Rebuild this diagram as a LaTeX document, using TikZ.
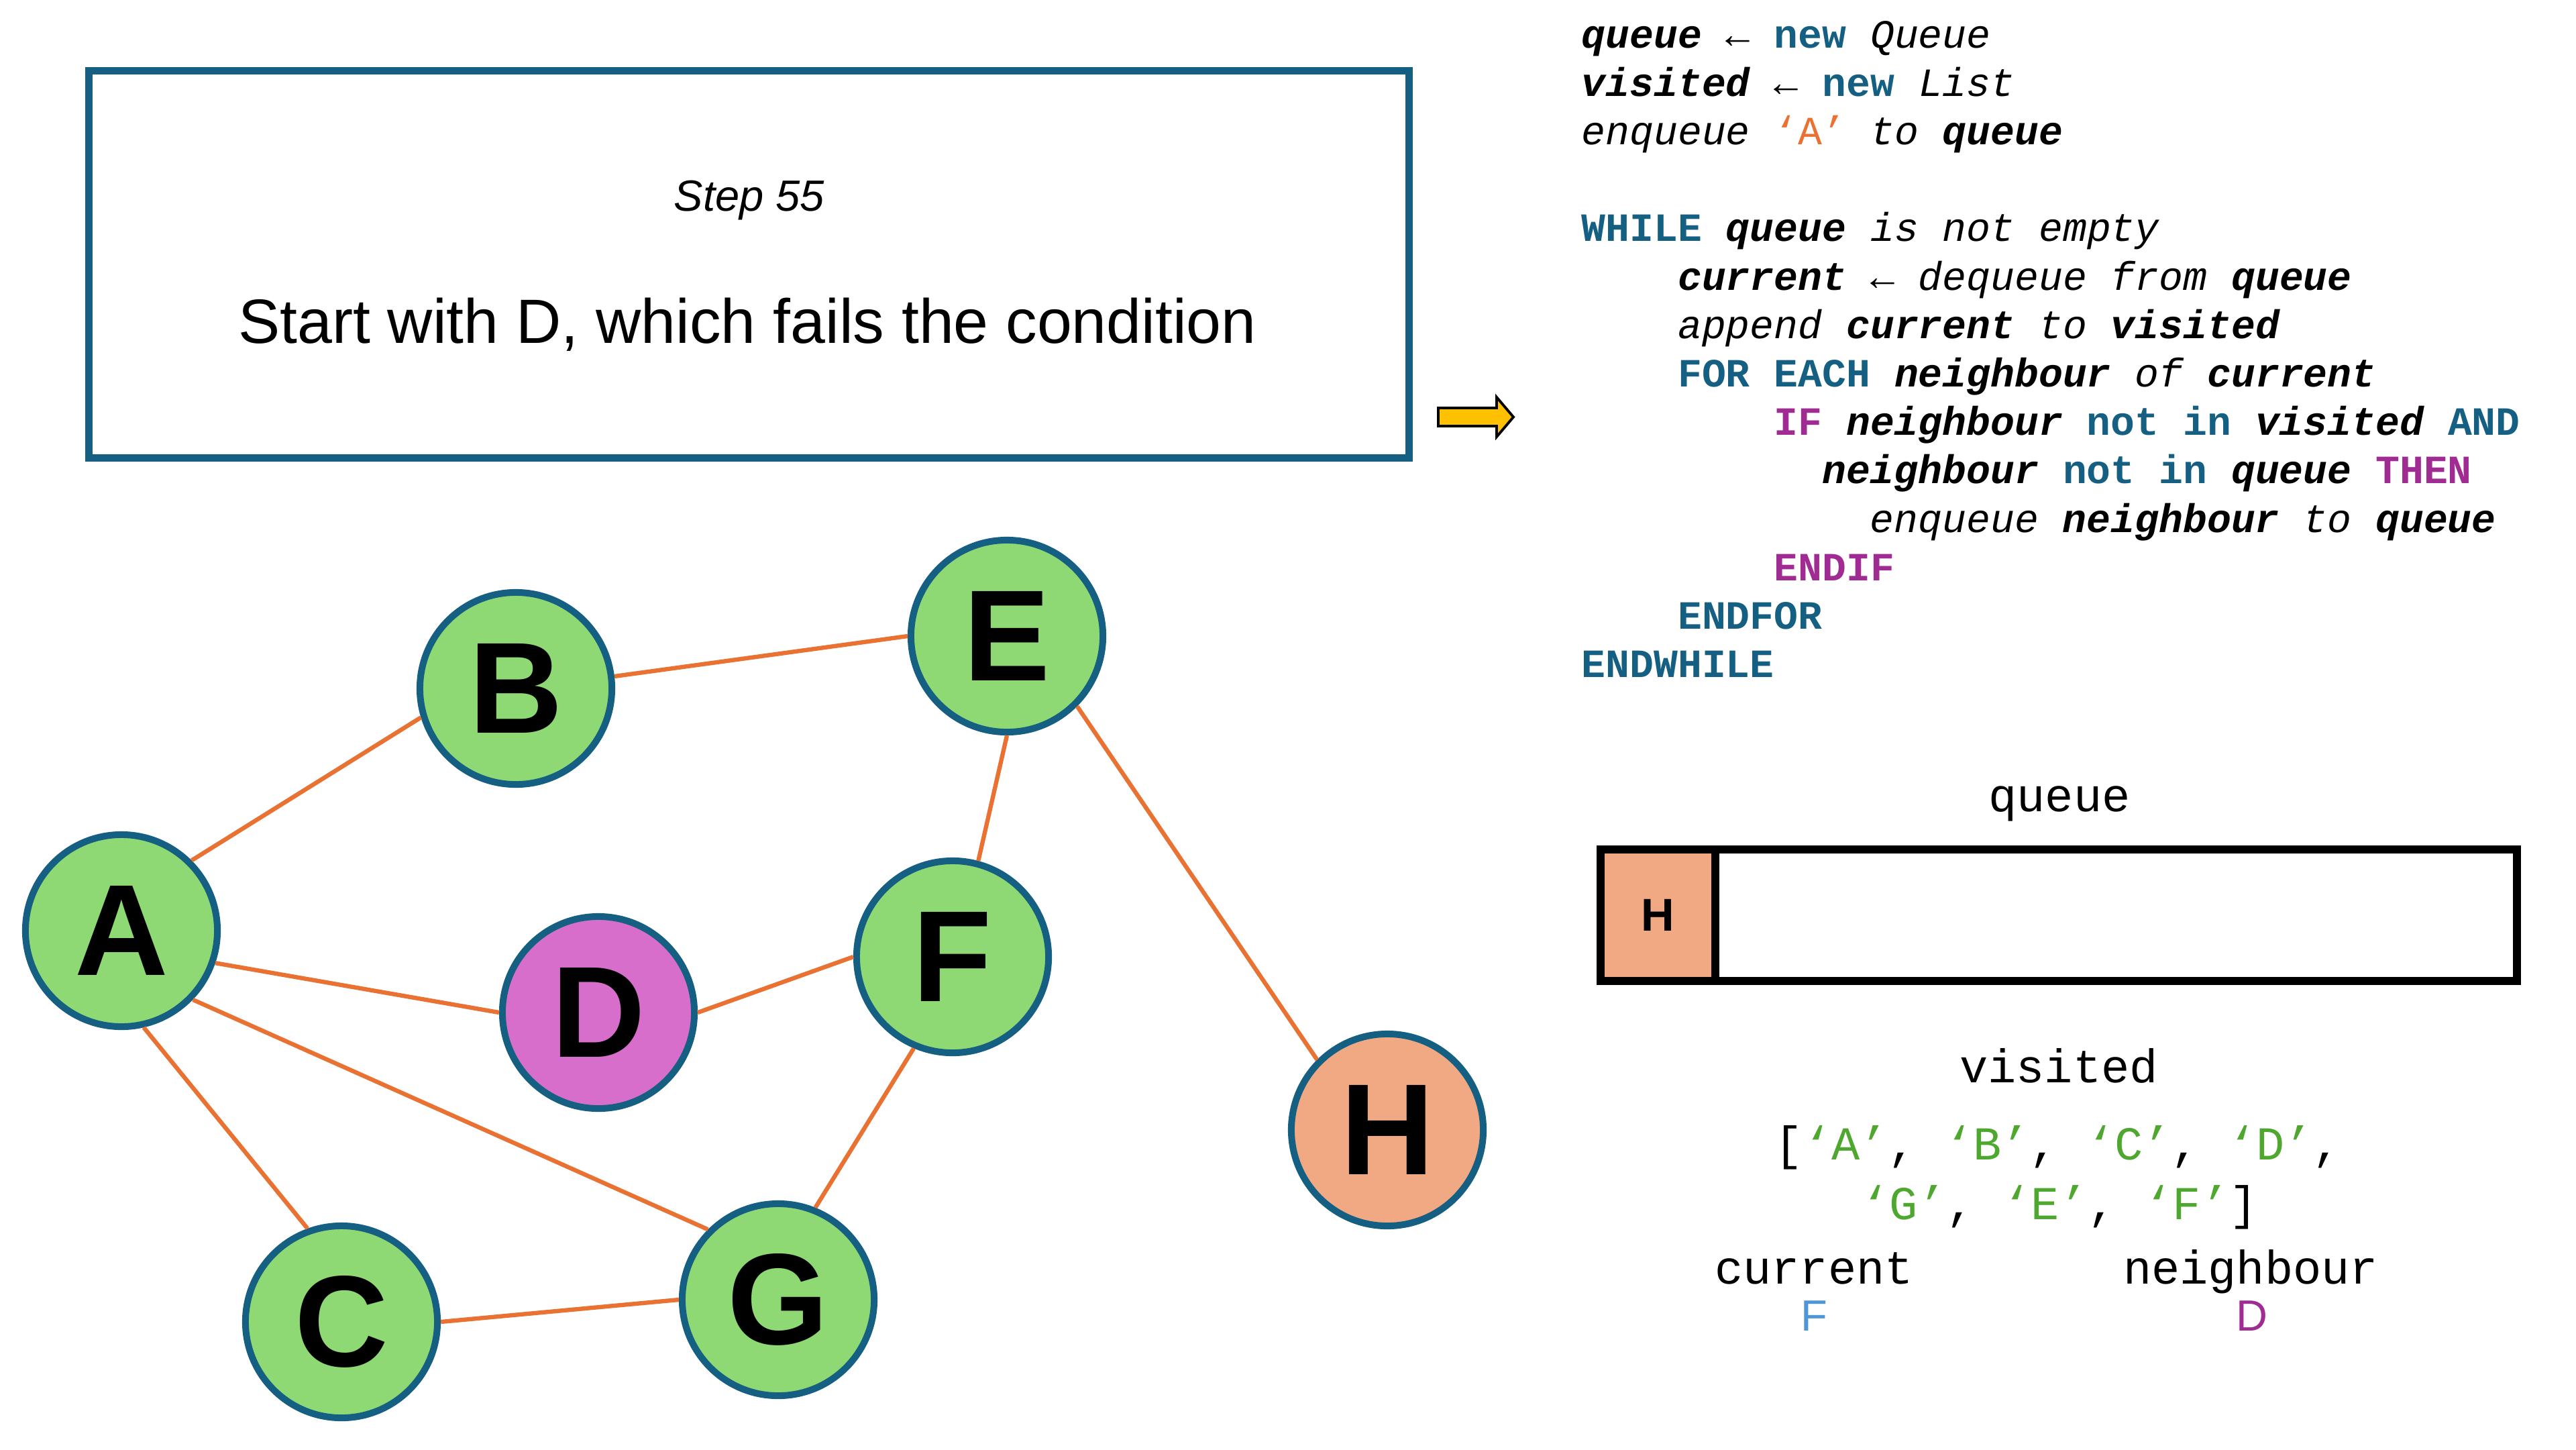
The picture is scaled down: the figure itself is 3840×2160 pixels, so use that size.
\documentclass[tikz,border=0pt]{standalone}
\usepackage{fontspec}
\setmainfont{Liberation Sans}
\newfontfamily\codefont{Liberation Mono}
\definecolor{kwteal}{HTML}{156082}
\definecolor{kwpurple}{HTML}{A02B93}
\definecolor{eorange}{HTML}{E97132}
\definecolor{ngreen}{HTML}{8ED973}
\definecolor{npink}{HTML}{D86ECC}
\definecolor{nsalmon}{HTML}{F1A983}
\definecolor{vgreen}{HTML}{4EA72E}
\definecolor{cblue}{HTML}{4E95D9}
\definecolor{arrowyellow}{HTML}{FFC000}
\newcommand{\cV}[1]{{\bfseries\itshape #1}}
\newcommand{\cK}[1]{{\bfseries\color{kwteal}#1}}
\newcommand{\cP}[1]{{\bfseries\color{kwpurple}#1}}
\newcommand{\cI}[1]{{\itshape #1}}
\newcommand{\gq}[1]{\textcolor{vgreen}{‘#1’}}
\begin{document}
\begin{tikzpicture}[x=0.01cm,y=-0.01cm,
  code/.style={anchor=base west,inner sep=0,font=\codefont\fontsize{17}{20}\selectfont},
  lbl/.style={anchor=base,inner sep=0,font=\codefont\fontsize{20}{24}\selectfont},
  gnode/.style={circle,draw=kwteal,line width=0.1cm,minimum size=2.86cm,inner sep=0,
    font=\fontsize{55}{60}\selectfont\bfseries},
  gedge/.style={draw=eorange,line width=1.8pt},
  valtext/.style={anchor=base,inner sep=0,font=\fontsize{18.5}{22}\selectfont}]
\useasboundingbox (0,0) rectangle (3840,2160);
\fill[white] (0,0) rectangle (3840,2160);

% title box
\node[draw=kwteal,line width=0.11cm,minimum width=19.66cm,minimum height=5.77cm,inner sep=0] (box) at (1116.5,394) {};
\node[anchor=base,inner sep=0,font=\fontsize{18.5}{22}\selectfont\itshape] (step) at (1117,314) {Step 55};
\node[anchor=base,inner sep=0,font=\fontsize{26.5}{30}\selectfont] (msg) at (1114,511) {Start with D, which fails the condition};

% pointer arrow
\draw[fill=arrowyellow,line width=1.1pt,line join=miter] (2144,608) -- (2231,608) -- (2231,592) -- (2256,621.5) -- (2231,651) -- (2231,635) -- (2144,635) -- cycle;

% pseudocode
\node[code] (c1) at (2357,71) {\cV{queue} ← \cK{new} \cI{Queue}};
\node[code] (c2) at (2357,143.2) {\cV{visited} ← \cK{new} \cI{List}};
\node[code] (c3) at (2357,215.4) {\cI{enqueue} \textcolor{eorange}{‘A’} \cI{to} \cV{queue}};
\node[code] (c5) at (2357,359.8) {\cK{WHILE} \cV{queue} \cI{is not empty}};
\node[code] (c6) at (2500.4,432) {\cV{current} ← \cI{dequeue from} \cV{queue}};
\node[code] (c7) at (2500.4,504.2) {\cI{append} \cV{current} \cI{to} \cV{visited}};
\node[code] (c8) at (2500.4,576.4) {\cK{FOR EACH} \cV{neighbour} \cI{of} \cV{current}};
\node[code] (c9) at (2643.8,648.6) {\cP{IF} \cV{neighbour} \cK{not in} \cV{visited} \cK{AND}};
\node[code] (c10) at (2715.5,720.8) {\cV{neighbour} \cK{not in} \cV{queue} \cP{THEN}};
\node[code] (c11) at (2787.2,793) {\cI{enqueue} \cV{neighbour} \cI{to} \cV{queue}};
\node[code] (c12) at (2643.8,865.2) {\cP{ENDIF}};
\node[code] (c13) at (2500.4,937.4) {\cK{ENDFOR}};
\node[code] (c14) at (2357,1009.6) {\cK{ENDWHILE}};

% queue
\node[lbl] (qlabel) at (3070,1209) {queue};
\node[draw=black,line width=0.12cm,minimum width=13.66cm,minimum height=1.96cm,inner sep=0] (qbox) at (3069,1364) {};
\node[draw=black,fill=nsalmon,line width=0.12cm,minimum width=1.71cm,minimum height=1.96cm,inner sep=0,
  font=\fontsize{19.5}{22}\selectfont\bfseries] (qh) at (2471.5,1364) {H};

% visited
\node[lbl] (vlabel) at (3069,1613) {visited};
\node[lbl] (vlist1) at (3068,1728) {[\gq{A}, \gq{B}, \gq{C}, \gq{D},};
\node[lbl] (vlist2) at (3070,1817) {\gq{G}, \gq{E}, \gq{F}]};

% current / neighbour
\node[lbl] (curlabel) at (2704,1913) {current};
\node[lbl] (nblabel) at (3355,1913) {neighbour};
\node[valtext,text=cblue] (curval) at (2704.5,1983) {F};
\node[valtext,text=kwpurple] (nbval) at (3357,1983) {D};

% graph
\node[gnode,fill=ngreen] (A) at (181,1387) {A};
\node[gnode,fill=ngreen] (B) at (769,1026) {B};
\node[gnode,fill=npink] (D) at (892,1509) {D};
\node[gnode,fill=ngreen] (C) at (509,1970) {C};
\node[gnode,fill=ngreen] (G) at (1160,1937) {G};
\node[gnode,fill=ngreen] (E) at (1501,948) {E};
\node[gnode,fill=ngreen] (F) at (1420,1426) {F};
\node[gnode,fill=nsalmon] (H) at (2068,1684) {H};

\draw[gedge] (A.45) -- (B.197);
\draw[gedge] (B.7) -- (E.180);
\draw[gedge] (A.-19) -- (D.180);
\draw[gedge] (D.0) -- (F.180);
\draw[gedge] (A.-44) -- (G.135);
\draw[gedge] (A.-77) -- (C.110);
\draw[gedge] (C.0) -- (G.180);
\draw[gedge] (G.68) -- (F.-113);
\draw[gedge] (E.-90) -- (F.75);
\draw[gedge] (E.-45) -- (H.135);
\end{tikzpicture}
\end{document}
